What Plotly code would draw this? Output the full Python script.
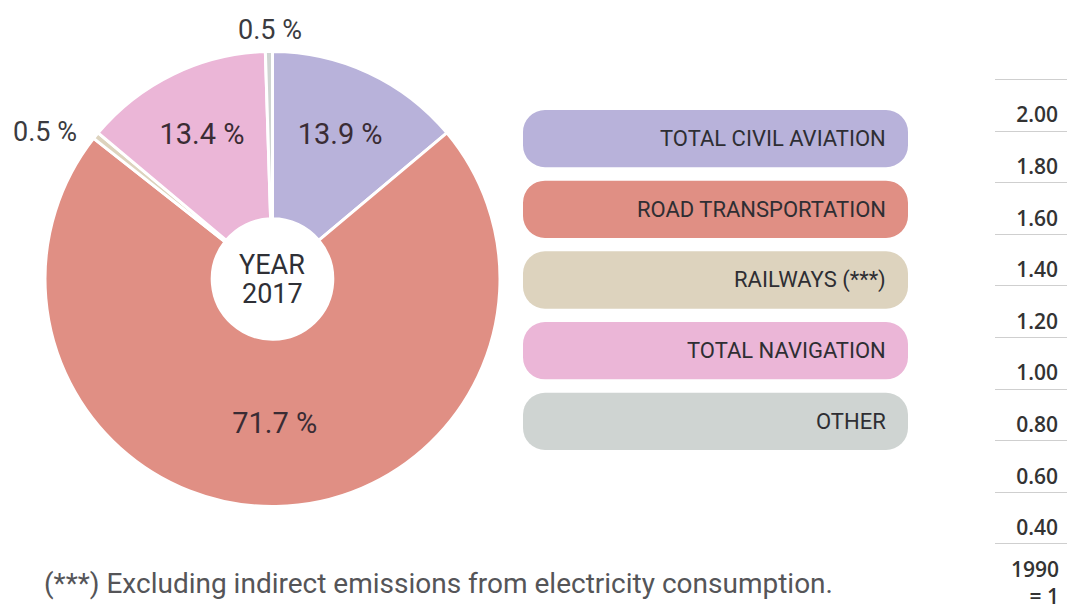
import plotly.graph_objects as go

# ------------------------------------------------------------------
# Data
# ------------------------------------------------------------------
categories = [
    "TOTAL CIVIL AVIATION",
    "ROAD TRANSPORTATION",
    "RAILWAYS (***)",
    "TOTAL NAVIGATION",
    "OTHER",
]
shares_2017 = [13.9, 71.7, 0.5, 13.4, 0.5]
colors = ["#B8B2DA", "#E08F84", "#DDD3BE", "#EBB6D7", "#CFD4D2"]

# right-hand index scale (cropped neighbour chart)
index_ticks = [0.4, 0.6, 0.8, 1.0, 1.2, 1.4, 1.6, 1.8, 2.0, 2.2]
index_labels = ["0.40", "0.60", "0.80", "1.00", "1.20", "1.40", "1.60", "1.80", "2.00", ""]

FONT = "Roboto, Open Sans, sans-serif"
W, H = 1067, 613

fig = go.Figure()

# ------------------------------------------------------------------
# Donut
# ------------------------------------------------------------------
fig.add_trace(
    go.Pie(
        labels=categories,
        values=shares_2017,
        sort=False,
        direction="clockwise",
        rotation=0,
        hole=0.265,
        marker=dict(colors=colors, line=dict(color="white", width=3)),
        textposition=["inside", "inside", "none", "inside", "none"],
        texttemplate="%{value} %",
        insidetextorientation="horizontal",
        insidetextfont=dict(family=FONT, size=29, color="#3a2c34"),
        domain=dict(x=[45 / W, 500 / W], y=[1 - 508 / H, 1 - 50 / H]),
        showlegend=False,
        hoverinfo="label+value",
    )
)

# ------------------------------------------------------------------
# Legend boxes as rounded horizontal bars
# ------------------------------------------------------------------
n = len(categories)
fig.add_trace(
    go.Bar(
        x=[1.0] * n,
        base=[0.001] * n,
        y=categories,
        orientation="h",
        marker=dict(color=colors, cornerradius=22, line=dict(width=0)),
        xaxis="x3",
        yaxis="y3",
        showlegend=False,
        hoverinfo="skip",
    )
)
for cat in categories:
    fig.add_annotation(
        x=1, y=cat, xref="x3", yref="y3",
        text=cat, showarrow=False, xanchor="right", yanchor="middle", xshift=-20,
        font=dict(family=FONT, size=22, color="#2e2e33"),
    )

# ------------------------------------------------------------------
# Index scale on the far right
# ------------------------------------------------------------------
fig.add_trace(
    go.Scatter(
        x=[0.5] * len(index_ticks),
        y=index_ticks,
        mode="markers",
        marker=dict(opacity=0),
        xaxis="x4",
        yaxis="y4",
        showlegend=False,
        hoverinfo="skip",
    )
)

# ------------------------------------------------------------------
# Text around the donut
# ------------------------------------------------------------------
small_labels = [(categories[4], 270, 30), (categories[2], 45, 132)]
for cat, px_x, px_y in small_labels:
    val = shares_2017[categories.index(cat)]
    fig.add_annotation(
        x=px_x / W, y=1 - px_y / H, xref="paper", yref="paper",
        xanchor="center", yanchor="middle",
        text=f"{val} %", showarrow=False,
        font=dict(family=FONT, size=27, color="#3b3b40"),
    )

fig.add_annotation(x=272 / W, y=1 - 265 / H, xref="paper", yref="paper",
                   xanchor="center", yanchor="middle",
                   text="YEAR", showarrow=False,
                   font=dict(family=FONT, size=27, color="#2f3036"))
fig.add_annotation(x=272 / W, y=1 - 294 / H, xref="paper", yref="paper",
                   xanchor="center", yanchor="middle",
                   text="2017", showarrow=False,
                   font=dict(family=FONT, size=27, color="#2f3036"))

fig.add_annotation(
    x=42 / W, y=1 - 583 / H, xref="paper", yref="paper",
    xanchor="left", yanchor="middle",
    text="(***) Excluding indirect emissions from electricity consumption.",
    showarrow=False, font=dict(family=FONT, size=28, color="#555558"),
)

fig.add_annotation(
    x=1, y=0.2, xref="paper", yref="y4", xanchor="right", yanchor="middle",
    xshift=-6, yshift=13, align="right",
    text="1990<br>= 1", showarrow=False,
    font=dict(family="Open Sans", size=21, color="#333333", weight=600),
)

# ------------------------------------------------------------------
# Layout
# ------------------------------------------------------------------
fig.update_layout(
    width=W,
    height=H,
    margin=dict(l=0, r=0, t=0, b=0),
    paper_bgcolor="white",
    plot_bgcolor="rgba(0,0,0,0)",
    bargap=0.19,
    xaxis3=dict(domain=[523 / W, 908 / W], range=[0.001, 1.001], visible=False, fixedrange=True),
    yaxis3=dict(domain=[1 - 456.75 / H, 1 - 103.25 / H], autorange="reversed",
                visible=False, fixedrange=True, anchor="x3"),
    xaxis4=dict(domain=[995 / W, 1], range=[0, 1], visible=False, anchor="y4"),
    yaxis4=dict(
        domain=[0, 1], range=[0.132, 2.508], anchor="x4", side="right",
        tickvals=index_ticks, ticktext=index_labels,
        ticklabelposition="inside", ticklabelstandoff=6, ticklabelshift=-16,
        showgrid=True, gridcolor="#cfcfcf", gridwidth=1,
        zeroline=False, showline=False, ticks="",
        tickfont=dict(family="Open Sans", size=21, color="#333333", weight=600),
    ),
)

fig.write_html(
    "out.html",
    config={"displayModeBar": False},
    post_script="document.body.style.margin = '0';",
)
